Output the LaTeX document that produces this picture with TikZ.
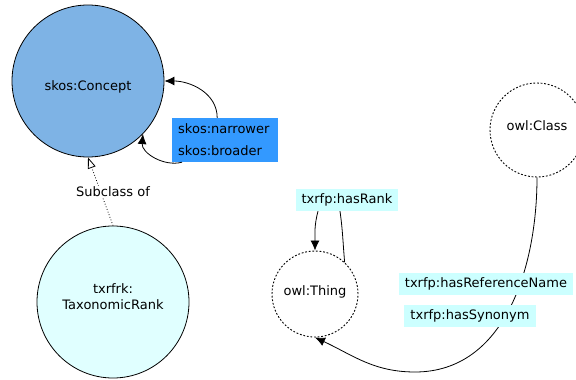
\documentclass[tikz,border=0pt]{standalone}
\usepackage{fontspec}
\setmainfont{DejaVu Sans}
\usetikzlibrary{arrows.meta}

\definecolor{conceptblue}{HTML}{7EB3E5}
\definecolor{propblue}{HTML}{3399FF}
\definecolor{propcyan}{HTML}{CCFFFF}
\definecolor{rankcyan}{HTML}{E0FFFF}

\tikzset{
	lbl/.style={font=\fontsize{13}{16}\selectfont},
	klass/.style={lbl, circle, draw, line width=0.8pt, align=center, inner sep=0pt},
	dotklass/.style={klass, line width=0.9pt, dash pattern=on 1.8pt off 1.8pt},
	propbox/.style={lbl, fill=propcyan, inner xsep=6pt, inner ysep=0pt, minimum height=22pt},
	skosbox/.style={propbox, fill=propblue, text width=94pt, align=left, anchor=west},
	relarrow/.style={line width=0.8pt, -{Latex[length=10pt,width=9pt]}},
}

\begin{document}
\begin{tikzpicture}[x=1pt, y=-1pt]
	\useasboundingbox (0,0) rectangle (576,380);
	\clip (0,0) rectangle (576,380);

	% classes
	\node[klass, fill=conceptblue, minimum size=152pt, text height=22pt, text depth=3pt] (concept) at (88,81) {skos:Concept};
	\node[klass, fill=rankcyan, minimum size=152pt, text height=17pt, text depth=3pt] (rank) at (113,302) {txrfrk:\\TaxonomicRank};
	\node[dotklass, minimum size=94pt, text height=3pt, text depth=3pt] (cls) at (537,130) {owl:Class};
	\node[dotklass, minimum size=86pt, text height=6pt, text depth=3pt] (thing) at (315,294) {owl:Thing};

	% subclass
	\draw[line width=0.8pt, dotted, -{Triangle[open,length=11pt,width=8pt]}] (rank.north) -- (concept.south);
	\node[lbl, fill=white, inner sep=1pt] (subcl) at (113,192) {Subclass of};

	% skos self relations
	\node[skosbox] (narrower) at (172,129) {skos:narrower};
	\node[skosbox] (broader) at (172,151) {skos:broader};
	\draw[relarrow] ([xshift=-8pt]narrower.north) to[out=90, in=0] (concept.east);
	\draw[relarrow] ([xshift=10pt]broader.south west) to[out=195, in=-95] (concept.-44);

	% hasRank loop
	\node[propbox] (hasrank) at (347,200) {txrfp:hasRank};
	\draw[line width=0.8pt] (thing.47) to[out=95, in=-82] ([xshift=-7pt]hasrank.south);
	\draw[relarrow] ([xshift=-29pt]hasrank.south) to[out=-105, in=90] (thing.north);

	% class to thing
	\coordinate (low) at (415,372);
	\draw[relarrow] (cls.south) to[out=-90, in=0] (low) to[out=180, in=-25] (thing.south);
	\node[propbox] (refname) at (486,284) {txrfp:hasReferenceName};
	\node[propbox] (synonym) at (470,316) {txrfp:hasSynonym};
\end{tikzpicture}
\end{document}
